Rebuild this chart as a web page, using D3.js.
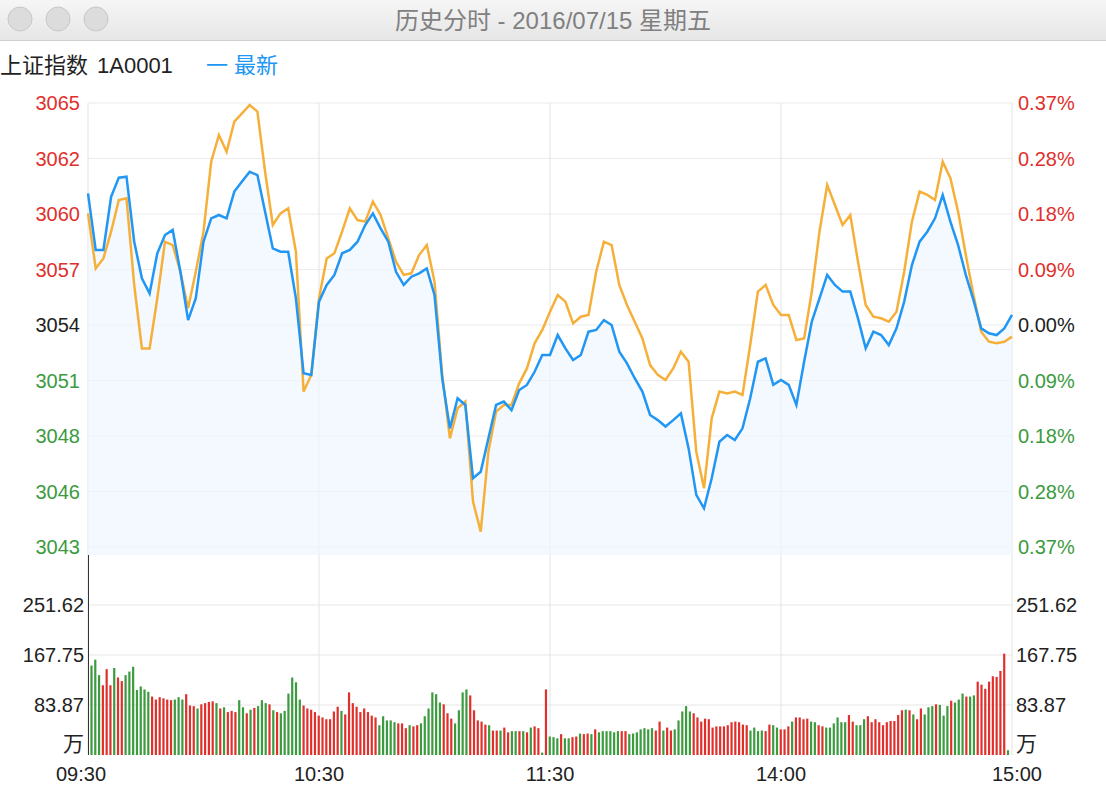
<!DOCTYPE html>
<html>
<head>
<meta charset="utf-8">
<script src="https://cdn.jsdelivr.net/npm/d3@7"></script>
<style>
  body { margin: 0; background: #fff; }
</style>
</head>
<body>
<div id="chart"></div>
<script>
// price sampled every 2 minutes (121 points), 09:30 - 15:00
const price = [
  3060.70, 3057.82, 3057.82, 3060.53, 3061.50, 3061.55, 3058.24, 3056.38, 3055.61, 3057.65,
  3058.58, 3058.84, 3056.71, 3054.25, 3055.36, 3058.24, 3059.43, 3059.60, 3059.43, 3060.79,
  3061.30, 3061.80, 3061.63, 3059.77, 3057.90, 3057.73, 3057.73, 3055.36, 3051.54, 3051.46,
  3055.19, 3056.04, 3056.55, 3057.65, 3057.82, 3058.24, 3059.09, 3059.68, 3058.92, 3058.24,
  3056.71, 3056.04, 3056.46, 3056.63, 3056.88, 3055.53, 3051.29, 3048.74, 3050.27, 3049.93,
  3046.20, 3046.53, 3048.23, 3049.93, 3050.10, 3049.67, 3050.69, 3050.95, 3051.62, 3052.47,
  3052.47, 3053.49, 3052.81, 3052.22, 3052.47, 3053.66, 3053.75, 3054.25, 3054.00, 3052.64,
  3052.05, 3051.29, 3050.61, 3049.42, 3049.16, 3048.83, 3049.16, 3049.50, 3047.72, 3045.35,
  3044.67, 3046.20, 3048.06, 3048.40, 3048.15, 3048.74, 3050.27, 3052.13, 3052.30, 3050.95,
  3051.20, 3050.95, 3049.93, 3052.13, 3054.17, 3055.36, 3056.55, 3056.04, 3055.70, 3055.70,
  3054.34, 3052.81, 3053.66, 3053.49, 3052.98, 3053.83, 3055.19, 3057.05, 3058.24, 3058.75,
  3059.43, 3060.62, 3059.26, 3058.07, 3056.55, 3055.27, 3053.83, 3053.58, 3053.49, 3053.83,
  3054.51
];
const second = [
  3059.68, 3056.88, 3057.39, 3058.75, 3060.36, 3060.45, 3056.04, 3052.81, 3052.81, 3055.36,
  3058.24, 3058.07, 3056.71, 3054.85, 3056.71, 3058.75, 3062.31, 3063.67, 3062.82, 3064.35,
  3064.77, 3065.20, 3064.86, 3061.80, 3059.09, 3059.68, 3059.94, 3057.73, 3050.61, 3051.46,
  3055.36, 3057.39, 3057.65, 3058.75, 3059.94, 3059.34, 3059.26, 3060.28, 3059.60, 3058.41,
  3057.22, 3056.55, 3056.63, 3057.56, 3058.07, 3056.21, 3051.46, 3048.23, 3049.76, 3050.10,
  3045.01, 3043.48, 3047.55, 3049.59, 3049.93, 3049.93, 3051.03, 3051.79, 3053.07, 3053.75,
  3054.68, 3055.53, 3055.19, 3054.08, 3054.42, 3054.51, 3056.71, 3058.24, 3058.07, 3056.04,
  3055.02, 3054.17, 3053.32, 3051.96, 3051.46, 3051.20, 3051.79, 3052.64, 3052.13, 3047.55,
  3045.69, 3049.25, 3050.61, 3050.52, 3050.61, 3050.44, 3052.98, 3055.70, 3056.04, 3055.02,
  3054.51, 3054.51, 3053.24, 3053.32, 3055.70, 3058.75, 3061.13, 3060.11, 3059.09, 3059.60,
  3057.22, 3055.02, 3054.42, 3054.34, 3054.17, 3054.68, 3056.71, 3059.26, 3060.79, 3060.62,
  3060.36, 3062.31, 3061.47, 3059.77, 3057.56, 3055.53, 3053.66, 3053.15, 3053.07, 3053.15,
  3053.41
];
// volume per minute (万) and direction (1 = up/red, 0 = down/green)
const volume = [
  150,160,134,117,144,117,146,130,124,134,140,148,109,115,110,106,98,93,97,95,
  93,92,93,97,93,102,83,82,78,85,87,89,90,87,78,80,72,74,72,92,
  80,70,76,79,82,92,87,85,75,72,70,74,103,130,122,93,83,78,76,72,
  66,63,60,60,73,81,74,68,105,87,81,72,78,72,66,63,50,65,58,58,
  55,53,53,45,50,48,50,53,65,78,105,102,88,85,70,61,53,75,105,110,
  100,75,58,56,51,50,41,41,41,46,38,40,40,40,40,38,46,48,45,4,
  110,31,30,28,35,28,28,30,31,36,35,36,35,43,38,40,40,40,38,40,
  40,40,35,36,38,43,45,43,45,41,56,41,46,41,43,58,73,82,73,70,
  63,56,61,60,46,48,48,48,50,55,56,55,51,50,41,46,40,41,40,51,
  50,46,43,43,48,56,63,63,60,61,56,55,50,48,46,46,53,63,55,55,
  67,56,50,50,60,65,55,60,55,50,55,57,57,67,75,76,75,68,60,78,
  68,80,82,85,84,66,82,91,88,93,103,98,98,100,123,118,111,123,132,131,
  141,170,8
];
const up = [
  0,0,0,1,1,1,0,1,1,0,0,0,0,0,0,0,1,1,1,1,
  1,1,0,0,0,1,1,1,0,1,1,1,1,0,1,0,1,1,1,0,
  0,1,0,1,0,0,0,1,0,1,0,0,0,0,0,0,1,1,1,1,
  1,1,1,1,1,1,0,1,1,1,1,1,1,1,1,1,0,0,0,0,
  0,1,1,1,0,1,1,0,0,0,0,0,0,1,1,1,0,0,0,0,
  1,1,1,1,1,0,1,1,0,1,1,0,0,1,0,1,0,1,1,0,
  1,0,0,0,1,0,0,1,1,0,1,1,0,1,0,0,0,0,0,0,
  1,1,0,0,0,0,0,0,0,1,1,0,1,1,0,0,0,0,0,1,
  1,1,1,1,1,1,1,1,1,1,1,1,1,1,0,0,0,0,1,1,
  0,0,1,1,1,0,1,1,1,1,0,0,1,1,0,0,0,0,0,0,
  1,1,0,0,0,1,1,1,1,1,1,1,1,1,1,0,1,0,1,1,
  0,0,0,1,0,0,0,1,0,0,0,1,0,0,1,1,1,1,1,1,
  1,1,0
];
const timeLabels = ["09:30", "10:30", "11:30", "14:00", "15:00"];
const priceTicks = ["3065", "3062", "3060", "3057", "3054", "3051", "3048", "3046", "3043"];
const pctTicks = ["0.37%", "0.28%", "0.18%", "0.09%", "0.00%", "0.09%", "0.18%", "0.28%", "0.37%"];
const volTicks = [251.62, 167.75, 83.87];
const preClose = 3054.0;

const W = 1106, H = 786;
const left = 88, right = 1012;
const pTop = 103, pBot = 547, areaBot = 555;
const vBot = 755;
const red = "#e0302c", green = "#3b9b3e", blueC = "#2196f3", orangeC = "#f6b03a";

const svg = d3.select("#chart").append("svg").attr("width", W).attr("height", H)
    .style("font-family", "'Liberation Sans', 'Noto Sans CJK SC', sans-serif");

// title bar
const grad = svg.append("defs").append("linearGradient").attr("id", "tb")
    .attr("x1", 0).attr("x2", 0).attr("y1", 0).attr("y2", 1);
grad.append("stop").attr("offset", 0).attr("stop-color", "#f6f6f6");
grad.append("stop").attr("offset", 1).attr("stop-color", "#e6e6e6");
svg.append("rect").attr("width", W).attr("height", 40).attr("fill", "url(#tb)");
svg.append("line").attr("x1", 0).attr("x2", W).attr("y1", 40.5).attr("y2", 40.5).attr("stroke", "#cfcfcf");
[20, 58, 96].forEach(cx => svg.append("circle").attr("cx", cx).attr("cy", 19).attr("r", 12)
    .attr("fill", "#dcdcdc").attr("stroke", "#c8c8c8"));
svg.append("text").attr("x", W / 2).attr("y", 29).attr("text-anchor", "middle")
    .attr("font-size", 24).attr("fill", "#808080").text("历史分时 - 2016/07/15 星期五");

// header
svg.append("text").attr("x", 0).attr("y", 73).attr("font-size", 22).attr("fill", "#222").text("上证指数");
svg.append("text").attr("x", 97).attr("y", 73).attr("font-size", 22).attr("fill", "#222").text("1A0001");
svg.append("text").attr("x", 206).attr("y", 73).attr("font-size", 22).attr("fill", blueC).text("一 最新");

// scales
const x = d3.scaleLinear().domain([0, price.length - 1]).range([left, right]);
const xb = d3.scaleLinear().domain([0, volume.length - 1]).range([left + 3.5, right - 4]);
const y = d3.scaleLinear().domain([preClose - 11.3, preClose + 11.3]).range([pBot, pTop]);
const yv = d3.scaleLinear().domain([0, 83.87]).range([vBot, vBot - 50]);

// grid
const g = svg.append("g");
const tickY = d3.range(priceTicks.length).map(i => pTop + i * (pBot - pTop) / 8);
tickY.forEach(ty => g.append("line").attr("x1", left).attr("x2", right).attr("y1", ty).attr("y2", ty)
    .attr("stroke", "#ebebeb"));
volTicks.forEach(v => g.append("line").attr("x1", left).attr("x2", right).attr("y1", yv(v)).attr("y2", yv(v))
    .attr("stroke", "#e6e6e6"));
const xt = d3.scaleLinear().domain([0, 4]).range([left, right]);
[0, 1, 2, 3, 4].forEach(i => g.append("line").attr("x1", xt(i)).attr("x2", xt(i))
    .attr("y1", pTop).attr("y2", vBot).attr("stroke", "#e3e3e3"));
g.append("line").attr("x1", left + 0.5).attr("x2", left + 0.5).attr("y1", areaBot).attr("y2", vBot)
    .attr("stroke", "#333");

// area + lines
svg.append("path").datum(price)
    .attr("d", d3.area().x((d, i) => x(i)).y0(areaBot).y1(d => y(d)))
    .attr("fill", "#eef6fd").attr("opacity", 0.7);
svg.append("path").datum(second)
    .attr("d", d3.line().x((d, i) => x(i)).y(d => y(d)))
    .attr("fill", "none").attr("stroke", orangeC).attr("stroke-width", 2.5);
svg.append("path").datum(price)
    .attr("d", d3.line().x((d, i) => x(i)).y(d => y(d)))
    .attr("fill", "none").attr("stroke", blueC).attr("stroke-width", 2.5);

// volume bars
svg.append("g").selectAll("rect").data(volume).join("rect")
    .attr("x", (d, i) => xb(i) - 1.1).attr("width", 2.2)
    .attr("y", d => yv(d)).attr("height", d => vBot - yv(d))
    .attr("fill", (d, i) => up[i] ? red : green);

// labels
const colorFor = i => i < 4 ? red : (i === 4 ? "#222" : green);
priceTicks.forEach((t, i) => svg.append("text").attr("x", 80).attr("y", tickY[i] + 7)
    .attr("text-anchor", "end").attr("font-size", 20).attr("fill", colorFor(i)).text(t));
pctTicks.forEach((t, i) => svg.append("text").attr("x", 1018).attr("y", tickY[i] + 7)
    .attr("font-size", 20).attr("fill", colorFor(i)).text(t));
volTicks.forEach(v => {
    svg.append("text").attr("x", 84).attr("y", yv(v) + 7).attr("text-anchor", "end")
        .attr("font-size", 20).attr("fill", "#222").text(v.toFixed(2));
    svg.append("text").attr("x", 1016).attr("y", yv(v) + 7)
        .attr("font-size", 20).attr("fill", "#222").text(v.toFixed(2));
});
svg.append("text").attr("x", 84).attr("y", 751).attr("text-anchor", "end").attr("font-size", 21).attr("fill", "#222").text("万");
svg.append("text").attr("x", 1016).attr("y", 751).attr("font-size", 21).attr("fill", "#222").text("万");
timeLabels.forEach((t, i) => svg.append("text").attr("x", xt(i)).attr("y", 781)
    .attr("text-anchor", i === 0 ? "start" : (i === 4 ? "end" : "middle"))
    .attr("dx", i === 0 ? -32 : (i === 4 ? 30 : 0))
    .attr("font-size", 20).attr("fill", "#222").text(t));
</script>
</body>
</html>
